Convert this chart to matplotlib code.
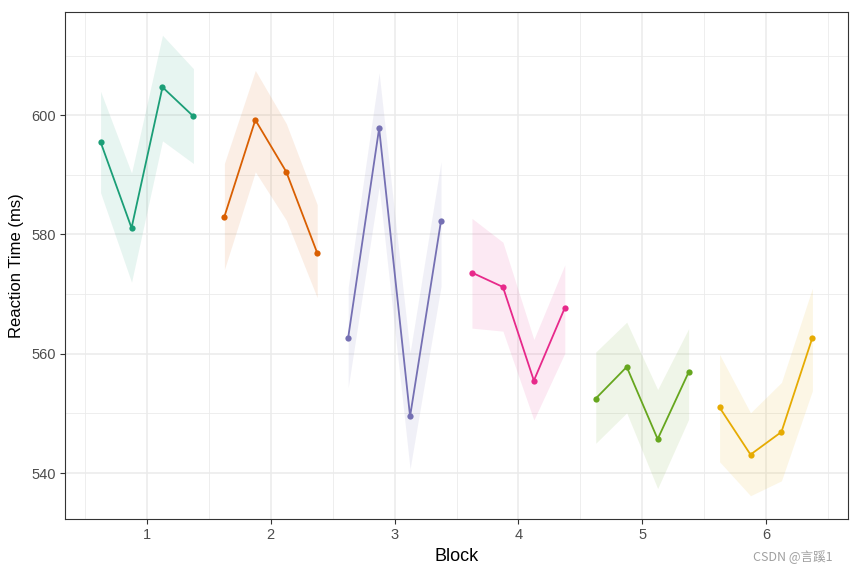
import numpy as np
import matplotlib
matplotlib.use("Agg")
import matplotlib.pyplot as plt
from matplotlib.ticker import MultipleLocator

plt.rcParams['font.family'] = ['Liberation Sans', 'DejaVu Sans']

blocks = [1, 2, 3, 4, 5, 6]
offsets = [-0.375, -0.125, 0.125, 0.375]
colors = ["#1B9E77", "#D95F02", "#7570B3", "#E7298A", "#66A61E", "#E6AB02"]

rt_mean = [
    [595.5, 581.1, 604.7, 599.8],
    [583.0, 599.2, 590.5, 576.9],
    [562.7, 597.8, 549.5, 582.3],
    [573.6, 571.2, 555.5, 567.7],
    [552.5, 557.8, 545.7, 556.9],
    [551.0, 543.1, 546.9, 562.7],
]
rt_upper = [
    [604.0, 590.3, 613.4, 607.8],
    [591.9, 607.5, 598.6, 585.0],
    [571.1, 607.1, 560.2, 592.2],
    [582.7, 578.7, 562.4, 574.9],
    [560.3, 565.3, 554.0, 564.2],
    [559.9, 550.1, 555.2, 571.0],
]
rt_lower = [
    [587.0, 572.0, 595.7, 591.9],
    [574.1, 590.5, 582.4, 569.4],
    [554.3, 588.0, 540.7, 571.3],
    [564.3, 563.8, 548.9, 560.1],
    [545.0, 550.1, 537.4, 549.0],
    [541.9, 536.2, 538.7, 553.8],
]

fig = plt.figure(figsize=(8.5, 5.74), dpi=100)
ax = fig.add_axes([65 / 850, 1 - 519 / 574, (848 - 65) / 850, (519 - 12) / 574])

for i, b in enumerate(blocks):
    x = np.array(offsets) + b
    ax.fill_between(x, rt_lower[i], rt_upper[i], color=colors[i], alpha=0.1,
                    linewidth=0, zorder=2)
    ax.plot(x, rt_mean[i], color=colors[i], linewidth=1.3, zorder=3)
    ax.plot(x, rt_mean[i], 'o', color=colors[i], markersize=4.5,
            markeredgewidth=0, zorder=4)

ax.set_xlim(0.3375, 6.6625)
ax.set_ylim(532.3, 617.3)
ax.set_xticks(blocks)
ax.set_yticks([540, 560, 580, 600])
ax.xaxis.set_minor_locator(MultipleLocator(0.5))
ax.yaxis.set_minor_locator(MultipleLocator(10))
ax.grid(which='major', color="#EBEBEB", linewidth=1.1, zorder=0)
ax.grid(which='minor', color="#EBEBEB", linewidth=0.6, zorder=0)
ax.set_axisbelow(True)
ax.tick_params(which='minor', length=0)
ax.tick_params(which='major', length=3.5, width=0.8, color="#333333",
               labelcolor="#4D4D4D", labelsize=10.5, pad=3)
for s in ax.spines.values():
    s.set_color("#333333")
    s.set_linewidth(0.8)

ax.set_xlabel("Block", fontsize=13, labelpad=4)
ax.set_ylabel("Reaction Time (ms)", fontsize=12, labelpad=5)

fig.text(0.98, 0.0296, "CSDN @言蹊1", ha='right', va='center', fontsize=9,
         color="#A0A0A0", family=['Noto Sans CJK SC', 'DejaVu Sans'])

fig.savefig("out.png", dpi=100)
